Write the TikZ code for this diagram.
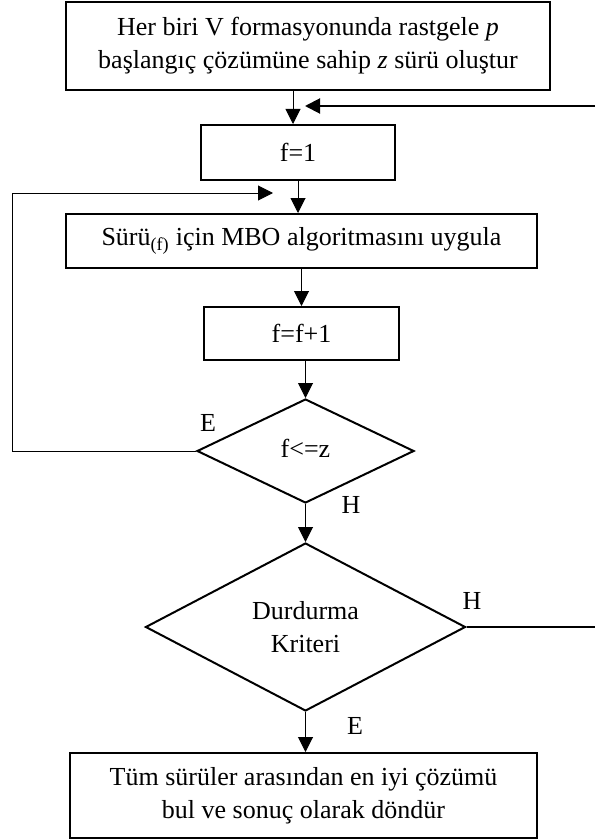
\documentclass[tikz,border=0pt]{standalone}
\usepackage{fontspec}
\setmainfont{Liberation Serif}
\usetikzlibrary{shapes.geometric,arrows.meta}
\newcommand\flowfont{\fontsize{26}{33}\selectfont}
\begin{document}
\begin{tikzpicture}[x=1pt,y=-1pt,
  box/.style={draw,rectangle,line width=2pt,inner sep=0pt,align=center,font=\flowfont},
  dia/.style={draw,diamond,line width=2pt,inner sep=0pt},
  txt/.style={font=\flowfont,align=center,inner sep=0pt},
  lbl/.style={font=\flowfont,inner sep=0pt},
  arr/.style={-{Triangle[length=15pt,width=15pt]},line width=1pt},
  heavy/.style={line width=2pt}]
\fill[white] (0,0) rectangle (595,840);
\useasboundingbox (0,0) rectangle (595,840);

% process boxes
\node[box,minimum width=484pt,minimum height=88pt] (top) at (308,46)
  {Her biri V formasyonunda rastgele \textit{p}\\başlangıç çözümüne sahip \textit{z} sürü oluştur};
\node[box,minimum width=194pt,minimum height=55pt] (f1) at (298,152.5) {f=1};
\node[box,minimum width=471pt,minimum height=54pt] (suru) at (301.5,241)
  {Sürü\textsubscript{(f)} için MBO algoritmasını uygula};
\node[box,minimum width=195pt,minimum height=53pt] (inc) at (301.5,333.5) {f=f+1};

% decisions
\node[dia,minimum width=217pt,minimum height=104pt] (d1) at (305.5,451) {};
\node[txt] (d1t) at ([yshift=3pt]d1.center) {f<=z};
\node[dia,minimum width=320pt,minimum height=168pt] (d2) at (305.5,627) {};
\node[txt] (d2t) at (d2.center) {Durdurma\\Kriteri};

\node[box,minimum width=467pt,minimum height=85pt] (end) at (303.5,795.5)
  {Tüm sürüler arasından en iyi çözümü\\bul ve sonuç olarak döndür};

% branch labels
\node[lbl] (e1) at (208,423) {E};
\node[lbl] (h1) at (351,505) {H};
\node[lbl] (h2) at (472,601) {H};
\node[lbl] (e2) at (355,726) {E};

% helper points for the loops
\coordinate (x1) at (293,0);
\coordinate (rA) at (595,106);
\coordinate (j1) at (305,106);
\coordinate (lA) at (12,193);
\coordinate (j2) at (273,193);
\coordinate (rB) at (595,627);

% connectors
\draw[arr] (top.south -| x1) -- (f1.north -| x1);
\draw[arr,line width=2pt] (rA) -- (j1);
\draw[arr] (f1.south) -- (suru.north -| f1.south);
\draw[arr] (suru.south -| inc.north) -- (inc.north);
\draw[arr] (inc.south -| d1.north) -- (d1.north);
\draw[arr] (d1.west) -| (lA) -- (j2);
\draw[arr] (d1.south) -- (d2.north);
\draw[heavy] (d2.east) -- (rB);
\draw[arr] (d2.south) -- (end.north -| d2.south);
\end{tikzpicture}
\end{document}
